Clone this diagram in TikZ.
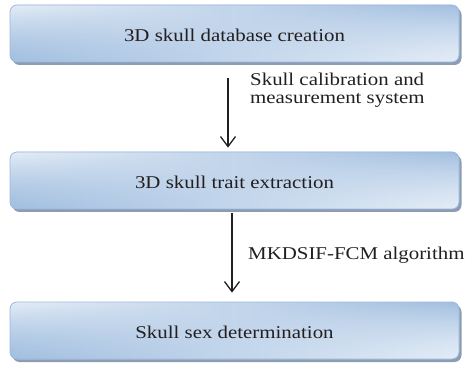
\documentclass[tikz,border=0pt]{standalone}
\usepackage{fontspec}
\setmainfont{Liberation Serif}[FakeStretch=1.16]
\usetikzlibrary{arrows.meta,shadows,calc,fadings}

\definecolor{boxdark}{HTML}{A2BFE0}
\definecolor{boxlight}{HTML}{E4EDF7}
\definecolor{boxmid}{HTML}{C3D6EC}
\definecolor{boxedge}{HTML}{9DB9DD}
\definecolor{shadowgray}{HTML}{8C9DB3}
\definecolor{inkgray}{HTML}{231F20}

% opaque at the bottom, clear at the top
\tikzfading[name=risefade, top color=transparent!100, bottom color=transparent!0]

\begin{document}
\begin{tikzpicture}[x=1pt,y=-1pt,
  stage/.style={rounded corners=7pt, draw=boxedge, line width=0.8pt, fill=boxmid,
    drop shadow={shadow xshift=2.5pt, shadow yshift=-3pt, fill=shadowgray, opacity=1},
    path picture={
      \fill[left color=boxlight, right color=boxdark]
        (path picture bounding box.south west) rectangle (path picture bounding box.north east);
      \fill[left color=boxdark, right color=boxlight, path fading=risefade]
        (path picture bounding box.south west) rectangle (path picture bounding box.north east);
    },
    minimum width=449pt, minimum height=57pt, inner sep=0pt,
    text height=16pt, text depth=0pt,
    text=inkgray, font=\fontsize{18}{18}\selectfont},
  flow/.style={line width=1.3pt, draw=inkgray, -{Straight Barb[length=10pt,width=15pt,line width=1.3pt]}},
  note/.style={anchor=base west, align=left, inner sep=0pt, text=inkgray,
    font=\fontsize{18}{18}\selectfont}
]
\useasboundingbox (0,0) rectangle (466,366);

\node[stage] (b1) at (234.5,33.5) {3D skull database creation};
\node[stage] (b2) at (234.5,180.5) {3D skull trait extraction};
\node[stage] (b3) at (234.5,330.5) {Skull sex determination};

\coordinate (a1s) at ($(b1.south)+(-6.5,16)$);
\coordinate (a1e) at ($(b2.north)+(-6.5,-4)$);
\coordinate (a2s) at ($(b2.south)+(-2.5,4)$);
\coordinate (a2e) at ($(b3.north)+(-2.5,-9)$);

\draw[flow] (a1s) -- (a1e);
\draw[flow] (a2s) -- (a2e);

\node[note] (l1) at (250,104) {Skull calibration and\\measurement system};
\node[note] (l2) at (248,260) {MKDSIF-FCM algorithm};
\end{tikzpicture}
\end{document}
